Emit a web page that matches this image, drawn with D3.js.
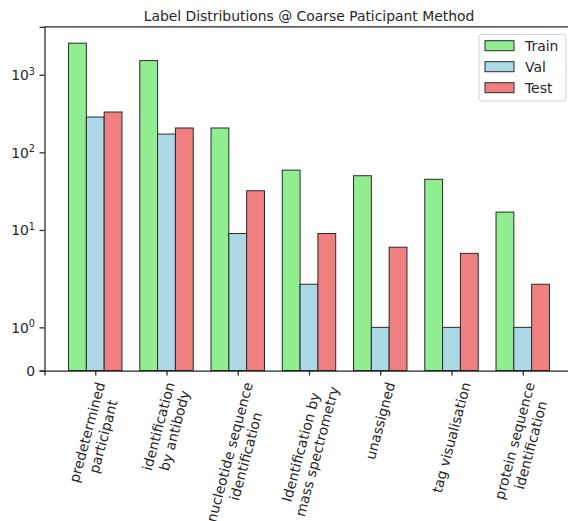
<!DOCTYPE html>
<html><head><meta charset="utf-8">
<script src="https://cdn.jsdelivr.net/npm/d3@7"></script>
<style>body{margin:0;background:#fff} svg{display:block} text{font-family:"DejaVu Sans",sans-serif;fill:#262626}</style>
</head><body><svg id="c" width="568" height="521"></svg>
<script>
const categories = ["predetermined\nparticipant","identification\nby antibody","nucleotide sequence\nidentification","Identification by\nmass spectrometry","unassigned","tag visualisation","protein sequence\nidentification"];
const seriesNames = ["Train","Val","Test"];
const seriesColors = ["#90EE90","#ADD8E6","#F08080"];
const trainValues = [2550, 1520, 206, 59, 50, 45, 17];
const valValues = [285, 172, 9, 2, 1, 1, 1];
const testValues = [331, 206, 32, 9, 6, 5, 2];
const yTickValues = [0, 1, 10, 100, 1000];
const titleText = "Label Distributions @ Coarse Paticipant Method";

const series = [trainValues, valValues, testValues];
const FS = 13.9, INK = "#262626";
// matplotlib-style symlog (linthresh=2, linscale=1, base 10)
const LT = 2, LSA = 1/(1-1/10);
function symlog(v){const a=Math.abs(v);return a<=LT? v*LSA : Math.sign(v)*LT*(LSA+Math.log10(a/LT));}

const L = 44.5, R = 573.5, B = 370.5, T = 26.8;
const svg = d3.select("#c");
const n = categories.length, bw = 0.25;
const x = d3.scaleLinear().domain([-0.375-0.05*(n-1+0.75), n-1+0.375+0.05*(n-1+0.75)]).range([L, R]);
const fmax = symlog(d3.max(series.flat()))*1.05;
const yLin = d3.scaleLinear().domain([0, fmax]).range([B, T]);
const y = v => yLin(symlog(v));

// bars
series.forEach((vals, s) => {
  svg.append("g").selectAll("rect").data(vals).join("rect")
    .attr("x", (d,i) => x(i + (s-1)*bw - bw/2))
    .attr("width", (d,i) => x(i + (s-1)*bw + bw/2) - x(i + (s-1)*bw - bw/2))
    .attr("y", d => y(d))
    .attr("height", d => B - y(d))
    .attr("fill", seriesColors[s]).attr("stroke", "#2a2a2a").attr("stroke-width", 1);
});

// spines (left, bottom, top; right falls outside the image)
svg.append("path").attr("d", `M${L},${T}H${R}`).attr("stroke", INK).attr("stroke-width", 1.25).attr("fill","none");

// y axis
const gy = svg.append("g").attr("transform", `translate(${L},0)`)
  .call(d3.axisLeft(yLin).tickValues(yTickValues.map(symlog)).tickSize(5).tickPadding(4.5).tickFormat(""));
gy.select(".domain").attr("stroke", INK).attr("stroke-width", 1.25);
gy.selectAll(".tick line").attr("stroke", INK).attr("stroke-width", 1.25);
gy.selectAll(".tick").each(function(d, i){
  const v = yTickValues[i];
  const t = d3.select(this).select("text").attr("font-size", FS).attr("fill", INK).attr("font-family","DejaVu Sans").attr("x", -9.5).attr("dy", "0.35em");
  if (v === 0) { t.text("0"); }
  else {
    const e = Math.round(Math.log10(v));
    t.append("tspan").text("10");
    t.append("tspan").attr("font-size", FS*0.7).attr("dy", "-0.55em").text(String(e));
  }
});

// x axis
const gx = svg.append("g").attr("transform", `translate(0,${B})`)
  .call(d3.axisBottom(x).tickValues(d3.range(n)).tickSize(5).tickFormat(""));
gx.select(".domain").attr("stroke", INK).attr("stroke-width", 1.25);
gx.selectAll(".tick line").attr("stroke", INK).attr("stroke-width", 1.25);

// rotated x labels (matplotlib: rotation 75, ha center, va top)
const th = 75*Math.PI/180, lh = FS*1.2, topY = B + 5 + 4.9;
categories.forEach((c, i) => {
  const lines = c.split("\n");
  const g = svg.append("g");
  const inner = g.append("g");
  let w = 0;
  lines.forEach((ln, j) => {
    const t = inner.append("text").attr("font-size", FS).attr("text-anchor","middle")
      .attr("y", (j - (lines.length-1)/2)*lh).attr("dy","0.35em").text(ln);
    w = Math.max(w, t.node().getComputedTextLength());
  });
  const h = lines.length*lh - (lh - FS*1.17);
  const H = w*Math.sin(th) + h*Math.cos(th);
  g.attr("transform", `translate(${x(i)},${topY + H/2})`);
  inner.attr("transform", "rotate(-75)");
});

// title
svg.append("text").attr("x", (L+R)/2).attr("y", 20.5).attr("text-anchor","middle")
  .attr("font-size", FS).text(titleText);

// legend
const lg = svg.append("g");
lg.append("rect").attr("x", 479).attr("y", 34.3).attr("width", 87).attr("height", 66.7).attr("rx", 3)
  .attr("fill", "#fff").attr("fill-opacity", 0.8).attr("stroke", "#d0d0d0").attr("stroke-width", 1);
seriesNames.forEach((nm, s) => {
  const cy = 45.7 + s*21;
  lg.append("rect").attr("x", 485).attr("y", cy-5).attr("width", 29).attr("height", 10)
    .attr("fill", seriesColors[s]).attr("stroke", "#2a2a2a").attr("stroke-width", 1);
  lg.append("text").attr("x", 525).attr("y", cy).attr("dy","0.35em").attr("font-size", FS).text(nm);
});
</script></body></html>
